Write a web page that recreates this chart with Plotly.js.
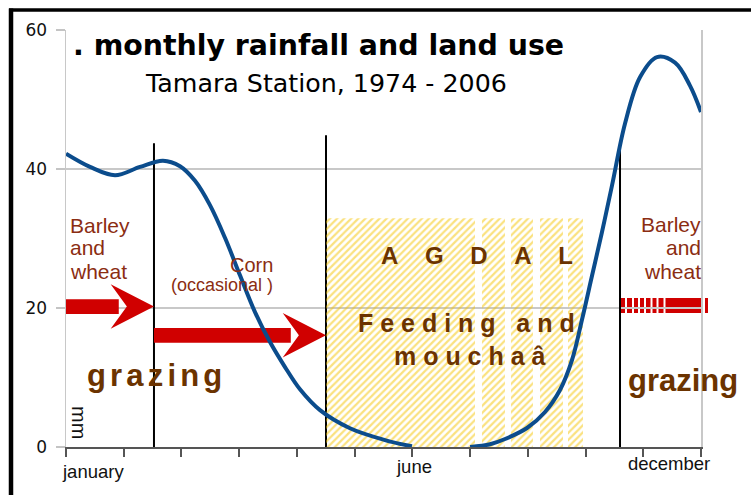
<!DOCTYPE html>
<html><head><meta charset="utf-8">
<script src="https://cdn.plot.ly/plotly-3.0.1.min.js"></script>
<style>html,body{margin:0;padding:0;background:#fff;}#chart{width:751px;height:495px;}</style>
</head><body><div id="chart"></div>
<script>
// ---- data (x in months from january = 0) ----
const rainMonthsA = [0, 0.416, 0.849, 1.282, 1.680, 1.975, 2.235, 2.494, 2.754, 3.014, 3.274, 3.534, 3.794, 4.053, 4.400, 4.919, 5.526, 5.993];
const rainA       = [42.2, 40.3, 39.1, 40.3, 41.2, 40.4, 38.3, 34.8, 30.1, 24.7, 19.4, 15.1, 11.5, 8.3, 5.3, 2.7, 1.0, 0.1];
const rainMonthsB = [7.0, 7.346, 7.606, 7.986, 8.298, 8.557, 8.765, 8.938, 9.111, 9.284, 9.458, 9.683, 9.943, 10.238, 10.550, 10.809, 11.0];
const rainB       = [0, 0.4, 1.15, 2.73, 5.04, 8.2, 12.5, 18.3, 24.6, 30.9, 37.6, 46.5, 53.2, 56.1, 55.3, 52.0, 48.2];

const agdalStart = [4.504, 7.206, 7.708, 8.211, 8.696];
const agdalEnd   = [7.085, 7.604, 8.089, 8.609, 8.955];
const agdalTop   = 32.9;

const dividerMonths = [1.524, 4.504, 9.597];
const dividerTops   = [43.7, 44.85, 43.5];

const arrowFrom  = [0, 1.524];
const arrowTo    = [1.524, 4.504];
const arrowLevel = [20.2, 16.07];

const yTickVals   = [0, 20, 40, 60];
const monthTicks  = [0,1,2,3,4,5,6,7,8,9,10,11];
const monthLabels = ['january', 'june', 'december'];

// ---- helpers (pixel -> paper) ----
const L = 66, T = 30, W = 635, H = 417;
const PX = x => (x - L) / W;
const PY = y => (T + H - y) / H;

const ARIAL = 'Liberation Sans, Arial, sans-serif';
const DEJAVU = 'DejaVu Sans, sans-serif';
const RED = '#d00000';
const BROWN = '#6b3300';
const DKRED = '#8b2d12';

// hatched AGDAL polygons
const hx = [], hy = [];
agdalStart.forEach((s, i) => {
  const e = agdalEnd[i];
  hx.push(s, e, e, s, s, null);
  hy.push(0, 0, agdalTop, agdalTop, 0, null);
});

const traces = [
  {
    type: 'scatter', mode: 'lines', x: hx, y: hy, fill: 'toself',
    fillcolor: 'rgba(0,0,0,0)', line: {width: 0, color: 'rgba(0,0,0,0)'},
    fillpattern: {shape: '/', fgcolor: '#f5c400', bgcolor: 'rgba(255,255,255,0)', size: 5, solidity: 0.45, fillmode: 'overlay'},
    hoverinfo: 'skip', showlegend: false
  },
  {
    type: 'scatter', mode: 'lines',
    x: rainMonthsA.concat([null], rainMonthsB),
    y: rainA.concat([null], rainB),
    connectgaps: false,
    line: {shape: 'spline', smoothing: 1, color: '#0b4c8c', width: 4},
    hoverinfo: 'skip', showlegend: false
  }
];

const shapes = [];
// vertical black dividers
dividerMonths.forEach((m, i) => {
  shapes.push({type: 'line', xref: 'x', yref: 'y', x0: m, x1: m, y0: 0, y1: dividerTops[i],
    line: {color: '#000', width: 2}, layer: 'between'});
});
// red arrows
arrowFrom.forEach((x0, i) => {
  const tip = arrowTo[i], yc = arrowLevel[i];
  const h = 1.06, hl = 0.75, hh = 3.2, notch = 0.47, se = tip - 0.61;
  const p = `M ${x0},${yc - h} L ${se},${yc - h} L ${se},${yc + h} L ${x0},${yc + h} Z ` +
            `M ${tip - hl},${yc + hh} L ${tip},${yc} L ${tip - hl},${yc - hh} L ${tip - notch},${yc} Z`;
  shapes.push({type: 'path', xref: 'x', yref: 'y', path: p, fillcolor: RED, line: {width: 0}, layer: 'between'});
});
// striped red bar on the right (pixel based decoration)
shapes.push({type: 'rect', xref: 'paper', yref: 'paper', x0: PX(619), x1: PX(708), y0: PY(313), y1: PY(298),
  fillcolor: RED, line: {width: 0}, layer: 'between'});
[625, 632, 638, 644, 650.5, 656.5, 663.5, 703].forEach(g => {
  shapes.push({type: 'rect', xref: 'paper', yref: 'paper', x0: PX(g), x1: PX(g + 2), y0: PY(314), y1: PY(297),
    fillcolor: '#fff', line: {width: 0}, layer: 'between'});
});
// outer black frame (left + top)
shapes.push({type: 'line', xref: 'paper', yref: 'paper', x0: PX(11), x1: PX(11), y0: PY(495), y1: PY(8.5),
  line: {color: '#000', width: 4.5}, layer: 'above'});
shapes.push({type: 'line', xref: 'paper', yref: 'paper', x0: PX(9), x1: PX(752), y0: PY(10), y1: PY(10),
  line: {color: '#000', width: 3.5}, layer: 'above'});

function ann(text, x, y, size, color, family, opts) {
  return Object.assign({text: text, xref: 'paper', yref: 'paper', x: PX(x), y: PY(y),
    xanchor: 'center', yanchor: 'middle', showarrow: false,
    font: {size: size, color: color, family: family}}, opts || {});
}
const sp = n => '\u00a0'.repeat(n);
const thin = '<span style="font-size:15px">\u00a0</span>';

const annotations = [
  ann('<b>. monthly rainfall and land use</b>', 318, 45.2, 28.4, '#000', DEJAVU),
  ann('Tamara Station, 1974 - 2006', 325.5, 83.2, 25.3, '#000', DEJAVU),
  // left barley
  ann('Barley', 67.5, 226, 21, DKRED, ARIAL, {xanchor: 'left'}),
  ann('and', 67.5, 247.6, 21, DKRED, ARIAL, {xanchor: 'left'}),
  ann('wheat', 67.5, 271, 21, DKRED, ARIAL, {xanchor: 'left'}),
  // right barley
  ann('Barley', 703, 224.5, 21, DKRED, ARIAL, {xanchor: 'right'}),
  ann('and', 703, 247.6, 21, DKRED, ARIAL, {xanchor: 'right'}),
  ann('wheat', 703, 271, 21, DKRED, ARIAL, {xanchor: 'right'}),
  ann('Corn', 251.5, 264.7, 20, DKRED, ARIAL),
  ann('(occasional )', 222, 284.7, 18, DKRED, ARIAL),
  ann('<b>A' + sp(4) + 'G' + sp(4) + 'D' + sp(4) + 'A' + sp(4) + 'L</b>', 477, 255, 24, BROWN, ARIAL),
  ann('<b>F e e d i n g' + sp(3) + 'a n d</b>', 466.5, 323, 25, BROWN, ARIAL),
  ann('<b>m o u c h a â</b>', 470, 356, 25, BROWN, ARIAL),
  ann('<b>g' + thin + 'r' + thin + 'a' + thin + 'z' + thin + 'i' + thin + 'n' + thin + 'g</b>', 154, 375, 31, BROWN, ARIAL),
  ann('<b>grazing</b>', 683, 380, 31, BROWN, ARIAL),
  ann('mm', 79.5, 422.5, 20, '#111', ARIAL, {textangle: 90}),
  // month labels
  ann(monthLabels[0], 93, 471.5, 18.5, '#111', ARIAL),
  ann(monthLabels[1], 414, 466.5, 18.5, '#111', ARIAL),
  ann(monthLabels[2], 669, 463.5, 18.5, '#111', ARIAL)
];

const layout = {
  width: 751, height: 495,
  margin: {l: L, r: 751 - L - W, t: T, b: 495 - T - H, pad: 0},
  paper_bgcolor: '#fff', plot_bgcolor: '#fff',
  showlegend: false,
  xaxis: {
    range: [0, 11], type: 'linear', fixedrange: true,
    tickvals: monthTicks, showticklabels: false,
    ticks: 'outside', ticklen: 8, tickwidth: 2, tickcolor: '#555',
    showline: true, linecolor: '#555', linewidth: 2,
    showgrid: false, zeroline: false
  },
  yaxis: {
    range: [0, 60], fixedrange: true,
    tickvals: yTickVals, ticks: 'outside', ticklen: 9, tickwidth: 1.5, tickcolor: '#c4c4c4',
    tickfont: {family: DEJAVU, size: 17, color: '#111'}, ticklabelstandoff: 5,
    showgrid: true, gridcolor: '#c8c8c8', gridwidth: 1.5,
    showline: true, linecolor: '#c8c8c8', linewidth: 1.5, mirror: true,
    zeroline: false
  },
  shapes: shapes,
  annotations: annotations
};

Plotly.newPlot('chart', traces, layout, {displayModeBar: false, staticPlot: true});
</script>
</body></html>
